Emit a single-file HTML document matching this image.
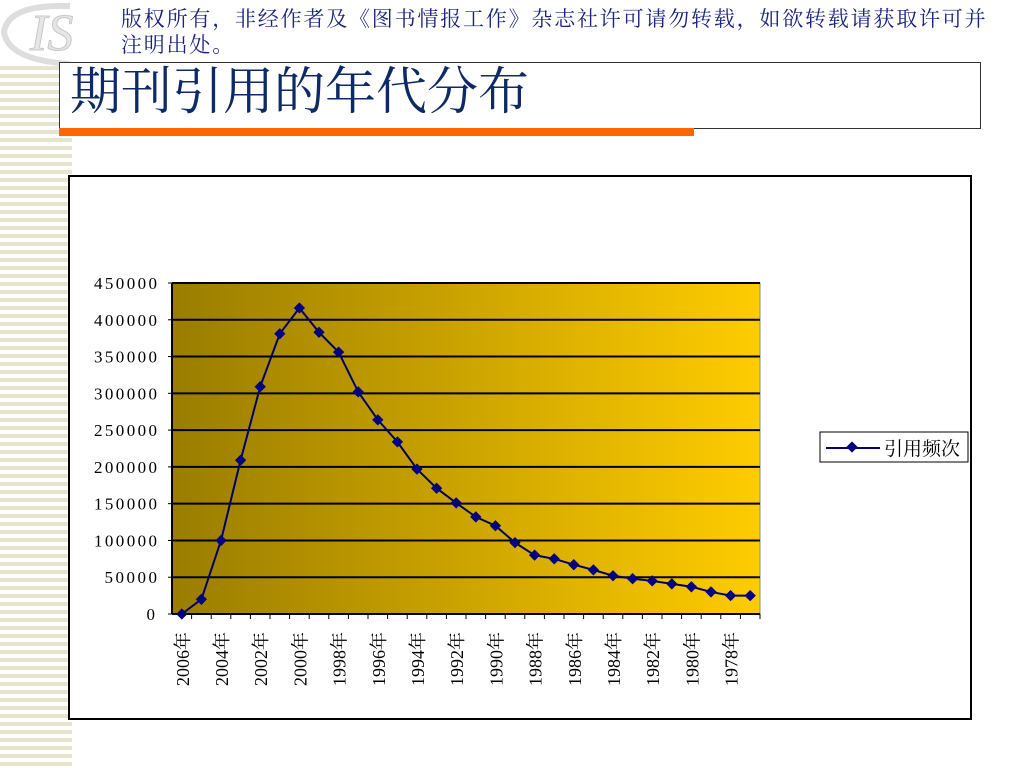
<!DOCTYPE html>
<html><head><meta charset="utf-8"><style>
body{margin:0;width:1024px;height:768px;background:#fff;position:relative;overflow:hidden;font-family:"Liberation Serif","Noto Serif CJK SC",serif}
.abs{position:absolute}
</style></head><body>
<div class="abs" style="left:0;top:66px;width:72px;height:700px;background:repeating-linear-gradient(to bottom,#e8e4d0 0 4px,#fff 4px 8px)"></div>
<div class="abs" style="left:0;top:0;width:120px;height:66px">
<svg width="120" height="66"><path d="M70 6 Q8 4 4 32 Q8 60 70 64" fill="none" stroke="#ddd" stroke-width="6"/><text x="30" y="50" font-family="Liberation Serif" font-style="italic" font-size="52" fill="#e6e6e6" stroke="#c8c8c8">IS</text></svg></div>
<div class="abs" style="left:121px;top:6px;width:880px;font-size:21px;line-height:26px;letter-spacing:1.8px;color:#1a237e;white-space:nowrap">版权所有，非经作者及《图书情报工作》杂志社许可请勿转载，如欲转载请获取许可并<br>注明出处。</div>
<div class="abs" style="left:59px;top:62px;width:920px;height:65px;border:1px solid #333;background:#fff"></div>
<div class="abs" style="left:70px;top:62px;font-size:51px;line-height:62px;color:#0d2a66">期刊引用的年代分布</div>
<div class="abs" style="left:59px;top:128px;width:635px;height:8px;background:#ff6600"></div>
<svg class="abs" style="left:0;top:0" width="1024" height="768" id="chart">
<defs><linearGradient id="g" x1="0" x2="1"><stop offset="0" stop-color="#9a7d00"/><stop offset="1" stop-color="#ffcc00"/></linearGradient></defs>
<rect x="69" y="176" width="902" height="543" fill="#fff" stroke="#000" stroke-width="2"/>
<rect x="172" y="283" width="588" height="331" fill="url(#g)" stroke="#888"/>
<g id="axes"></g><g id="series"></g>
<g><rect x="820" y="432" width="148" height="30" fill="#fff" stroke="#000"/>
<line x1="826" y1="448" x2="880" y2="448" stroke="#000080" stroke-width="2"/><rect x="848" y="443" width="8" height="8" fill="#000080" transform="rotate(45 852 447)"/>
<text x="884" y="455" font-size="19" font-family="Liberation Serif,Noto Serif CJK SC,serif">引用频次</text></g>
</svg>
<script>
const years=[2006,2005,2004,2003,2002,2001,2000,1999,1998,1997,1996,1995,1994,1993,1992,1991,1990,1989,1988,1987,1986,1985,1984,1983,1982,1981,1980,1979,1978,1977];
const values=[0,20000,100000,209000,309000,381000,416000,383000,356000,302000,264000,234000,197000,171000,151000,132000,120000,97000,80000,75000,67000,60000,52000,48000,45000,41000,37000,30000,25000,25000];
const yTicks=[0,50000,100000,150000,200000,250000,300000,350000,400000,450000];
const X0=172,X1=760,Y0=614,Y1=283,YMAX=450000;
const ns="http://www.w3.org/2000/svg";
const step=(X1-X0)/years.length;
const xs=i=>X0+step*(i+0.5), ys=v=>Y0-(v/YMAX)*(Y0-Y1);
const ax=document.getElementById('axes'),se=document.getElementById('series');
function mk(t,a,p){const e=document.createElementNS(ns,t);for(const k in a)e.setAttribute(k,a[k]);p.appendChild(e);return e;}
yTicks.forEach(v=>{const y=ys(v);
 if(v>0){const l=mk('line',{x1:X0,x2:X1,y1:y,y2:y,stroke:'#000','stroke-width':2},ax);}
 const s=String(v);const t=mk('text',{x:157-s.length*10.5,y:y+6,'font-size':17,'font-family':'Liberation Serif',textLength:s.length*10.5,lengthAdjust:'spacing'},ax);t.textContent=s;
 
 mk('line',{x1:X0-4,x2:X0,y1:y,y2:y,stroke:'#000'},ax);});
mk('line',{x1:X0,x2:X0,y1:Y1,y2:Y0,stroke:'#000','stroke-width':2},ax);
mk('line',{x1:X0,x2:X1,y1:Y0,y2:Y0,stroke:'#000','stroke-width':2},ax);
years.forEach((yr,i)=>{const x=X0+step*(i+1);mk('line',{x1:x,x2:x,y1:Y0,y2:Y0+5,stroke:'#000'},ax);
 if(i%2==0){const t=mk('text',{transform:`translate(${xs(i)+7},${Y0+18}) rotate(-90)`,'text-anchor':'end','font-size':18,'font-family':'Liberation Serif,Noto Serif CJK SC,serif'},ax);t.textContent=yr+'年';
 }});
const p=mk('polyline',{points:values.map((v,i)=>xs(i)+','+ys(v)).join(' '),fill:'none',stroke:'#000066','stroke-width':2},se);

values.forEach((v,i)=>{const x=xs(i),y=ys(v);const m=mk('rect',{x:x-4,y:y-4,width:8,height:8,fill:'#000080',transform:`rotate(45 ${x} ${y})`},se);
 });
</script>
</body></html>
